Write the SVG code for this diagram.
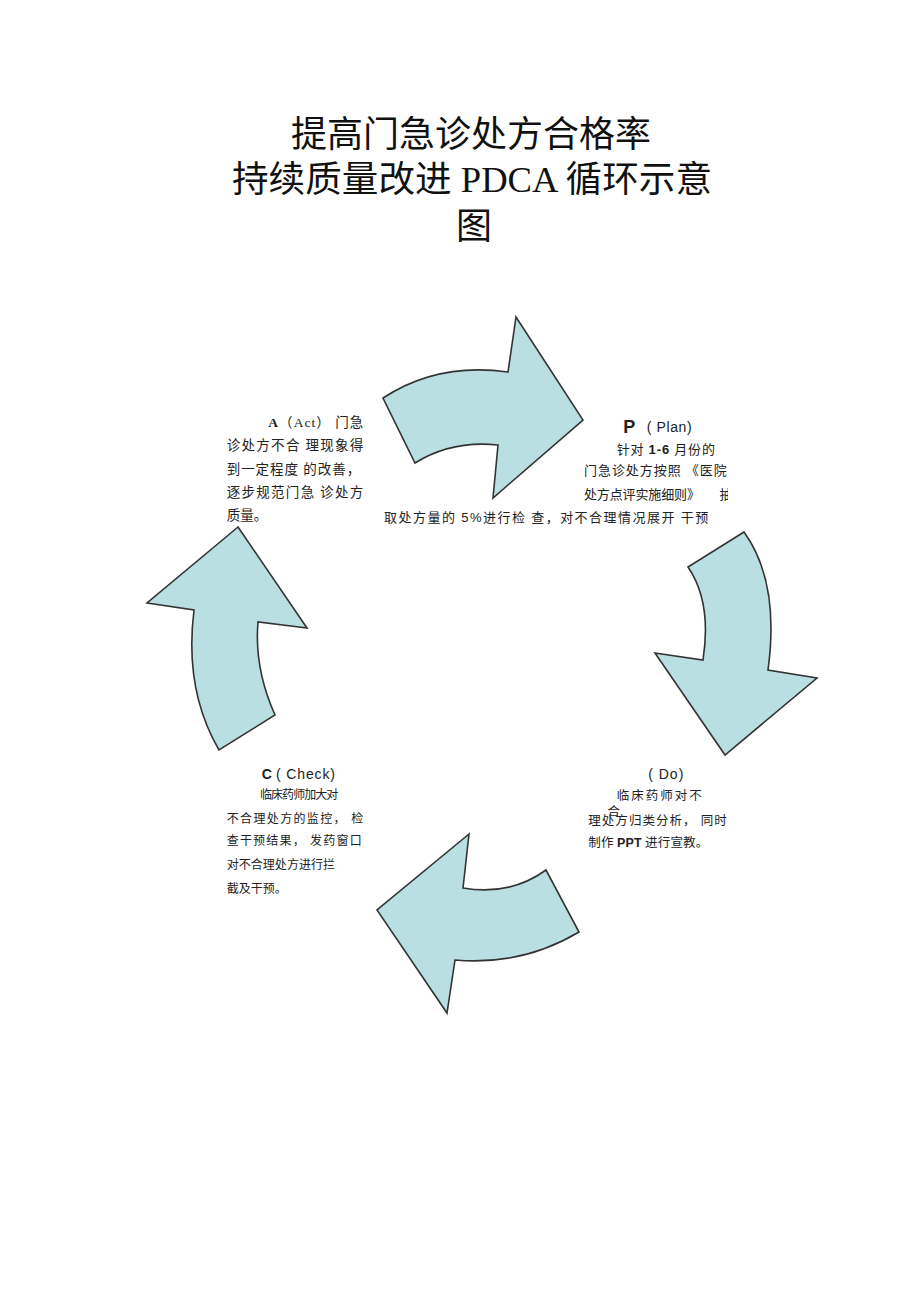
<svg xmlns="http://www.w3.org/2000/svg" width="920" height="1303" viewBox="0 0 920 1303">
<style>
.title{font-family:"Liberation Serif","Noto Sans CJK SC",serif;font-size:36px;fill:#111;text-anchor:middle}
.arrow{fill:#b9dfe3;stroke:#333;stroke-width:1.6;stroke-linejoin:miter}
.t{font-family:"Liberation Serif","Noto Sans CJK SC",serif;fill:#222}
.s{font-family:"Liberation Sans","Noto Sans CJK SC",sans-serif;fill:#222}
.b{font-weight:bold}
</style>
<defs>
<clipPath id="clipP"><rect x="380" y="400" width="348" height="140"/></clipPath>
</defs>
<rect width="920" height="1303" fill="#fff"/>
<g id="title">
<text class="title" x="471" y="147">提高门急诊处方合格率</text>
<text class="title" x="472" y="192" textLength="480" lengthAdjust="spacingAndGlyphs">持续质量改进 PDCA 循环示意</text>
<text class="title" x="474" y="239">图</text>
</g>
<g id="connectors">
<path class="arrow" d="M383,398 Q438,362 508,372 L516,317 L583,420 L493,498 L498,445 Q452,440 415,463 Z"/>
<path class="arrow" d="M744,532 L688,567 Q712,602 703,660 L655,653 L725,755 L817,678 L768,670 Q780,582 744,532 Z"/>
<path class="arrow" d="M469,834 L463,888 Q510,896 546,870 L579,932 Q522,966 455,960 L447,1013 L377,910 Z"/>
<path class="arrow" d="M238,527 L147,603 L194,610 Q184,690 219,750 L275,715 Q254,668 258,622 L307,628 Z"/>
</g>
<g id="node-act">
<text class="t" font-size="13.5" x="268.3" y="427" textLength="95" lengthAdjust="spacing"><tspan class="b">A</tspan>（Act） 门急</text>
<text class="t" font-size="13.5" x="226.7" y="450.3" textLength="136.6" lengthAdjust="spacing">诊处方不合 理现象得</text>
<text class="t" font-size="13.5" x="226.7" y="473.6" textLength="133.5" lengthAdjust="spacing">到一定程度 的改善，</text>
<text class="t" font-size="13.5" x="226.7" y="497" textLength="136.5" lengthAdjust="spacing">逐步规范门急 诊处方</text>
<text class="t" font-size="13.5" x="226.7" y="520.3">质量。</text>
</g>
<g id="node-plan" clip-path="url(#clipP)">
<text class="s b" font-size="18" x="623.3" y="432.5">P</text>
<text class="s" font-size="14" x="646.7" y="431.5" textLength="45" lengthAdjust="spacing">( Plan)</text>
<text class="t" font-size="13" x="616.7" y="453.6" textLength="98.3" lengthAdjust="spacing">针对 <tspan class="s b">1-6</tspan> 月份的</text>
<text class="t" font-size="13" x="584" y="475.3" textLength="142.7" lengthAdjust="spacing">门急诊处方按照 《医院</text>
<text class="t" font-size="13" x="584" y="498.6" textLength="116" lengthAdjust="spacing">处方点评实施细则》</text>
<text class="t" font-size="13" x="719.5" y="498.6">抽</text>
<text class="t" font-size="13" x="384" y="522" textLength="324.3" lengthAdjust="spacing">取处方量的 <tspan class="s">5%</tspan>进行检 查，对不合理情况展开 干预</text>
</g>
<g id="node-do">
<text class="s" font-size="14" x="648.3" y="779" textLength="35" lengthAdjust="spacing">( Do)</text>
<text class="t" font-size="12.5" x="616.7" y="800.3" textLength="85" lengthAdjust="spacing">临床药师对不</text>
<text class="t" font-size="12.5" x="607.5" y="816">合</text>
<text class="t" font-size="12.5" x="588.3" y="825.3" textLength="138.4" lengthAdjust="spacing">理处方归类分析， 同时</text>
<text class="t" font-size="12.5" x="588.3" y="847" textLength="120" lengthAdjust="spacing">制作 <tspan class="s b">PPT</tspan> 进行宣教。</text>
</g>
<g id="node-check">
<text class="s b" font-size="14" x="261.7" y="779">C</text>
<text class="s" font-size="14" x="276" y="779" textLength="59" lengthAdjust="spacing">( Check)</text>
<text class="t" font-size="12" x="260" y="798.5" textLength="78.3" lengthAdjust="spacing">临床药师加大对</text>
<text class="t" font-size="12" x="226.7" y="822.5" textLength="136.6" lengthAdjust="spacing">不合理处方的监控， 检</text>
<text class="t" font-size="12" x="226.7" y="845.3" textLength="135" lengthAdjust="spacing">查干预结果， 发药窗口</text>
<text class="t" font-size="12" x="226.7" y="868.6" textLength="108.3" lengthAdjust="spacing">对不合理处方进行拦</text>
<text class="t" font-size="12" x="226.7" y="893">截及干预。</text>
</g>
</svg>
